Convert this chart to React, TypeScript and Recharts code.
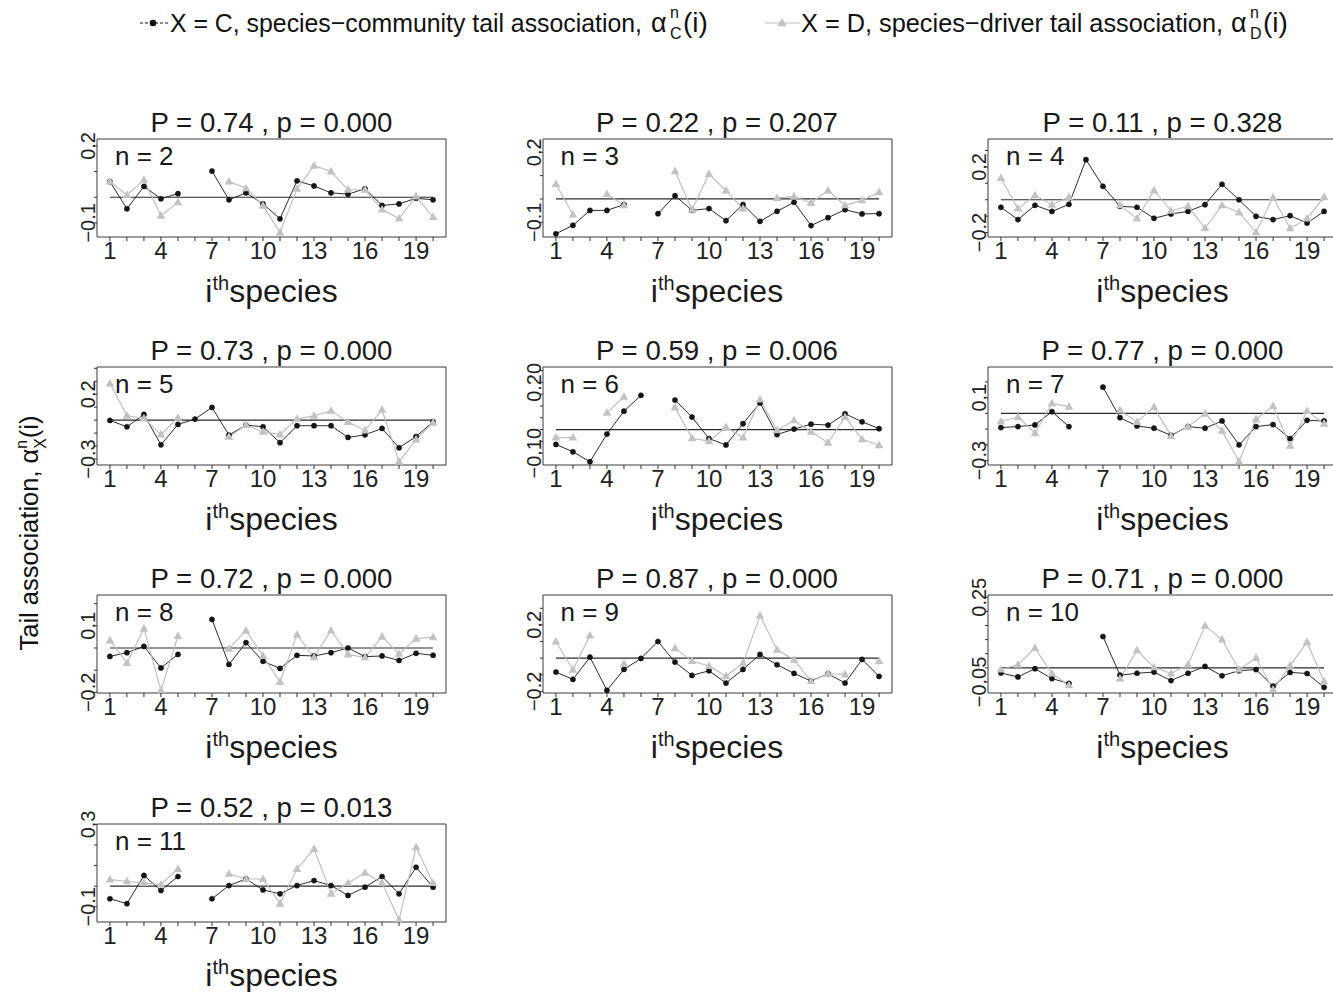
import { LineChart, Line, XAxis, YAxis, ReferenceLine, ReferenceArea } from 'recharts';

const species = [1, 2, 3, 4, 5, 6, 7, 8, 9, 10, 11, 12, 13, 14, 15, 16, 17, 18, 19, 20];
const xTickLabels = [1, 4, 7, 10, 13, 16, 19];
const nValues = [2, 3, 4, 5, 6, 7, 8, 9, 10, 11];
const bigP = ['0.74', '0.22', '0.11', '0.73', '0.59', '0.77', '0.72', '0.87', '0.71', '0.52'];
const smallP = ['0.000', '0.207', '0.328', '0.000', '0.006', '0.000', '0.000', '0.000', '0.000', '0.013'];

// species-community (C) and species-driver (D) tail association, one pair per n
const commN2 = [0.061, -0.045, 0.042, -0.006, 0.014, null, 0.102, -0.010, 0.017, -0.026, -0.084, 0.064, 0.044, 0.017, 0.012, 0.033, -0.032, -0.026, -0.004, -0.010];
const drvN2 = [0.061, 0.009, 0.068, -0.072, -0.020, null, null, 0.061, 0.035, -0.033, -0.137, 0.033, 0.123, 0.100, 0.029, 0.029, -0.048, -0.083, 0.003, -0.077];
const commN3 = [-0.149, -0.113, -0.049, -0.049, -0.024, null, -0.063, 0.014, -0.049, -0.041, -0.093, -0.024, -0.096, -0.053, -0.014, -0.114, -0.080, -0.046, -0.064, -0.063];
const drvN3 = [0.064, -0.067, null, 0.021, -0.027, null, null, 0.119, -0.046, 0.107, 0.036, -0.041, null, 0.004, 0.011, -0.017, 0.036, -0.027, -0.006, 0.029];
const commN4 = [-0.046, -0.121, -0.034, -0.071, -0.028, 0.244, 0.082, -0.040, -0.046, -0.113, -0.087, -0.071, -0.030, 0.094, 0.000, -0.101, -0.121, -0.097, -0.142, -0.071];
const drvN4 = [0.132, -0.054, 0.027, -0.030, 0.017, null, null, -0.034, -0.115, 0.057, -0.067, -0.040, -0.172, -0.034, -0.077, -0.198, 0.015, -0.174, -0.115, 0.017];
const commN5 = [-0.002, -0.051, 0.044, -0.190, -0.033, 0.008, 0.098, -0.115, -0.038, -0.051, -0.174, -0.043, -0.043, -0.043, -0.133, -0.113, -0.064, -0.213, -0.126, -0.013];
const drvN5 = [0.282, 0.033, 0.013, -0.110, 0.018, null, null, -0.128, -0.038, -0.090, -0.110, 0.010, 0.033, 0.072, -0.015, -0.079, 0.080, -0.320, -0.149, -0.020];
const commN6 = [-0.063, -0.094, -0.136, -0.019, 0.078, 0.145, null, 0.125, 0.053, -0.038, -0.065, 0.025, 0.113, -0.021, 0.002, 0.023, 0.019, 0.067, 0.033, 0.004];
const drvN6 = [-0.034, -0.034, null, 0.071, 0.139, null, null, 0.094, -0.037, -0.049, 0.011, -0.034, 0.127, -0.003, 0.039, -0.009, -0.056, 0.053, -0.041, -0.066];
const commN7 = [-0.090, -0.084, -0.073, 0.011, -0.084, null, 0.167, -0.027, -0.080, -0.094, -0.139, -0.084, -0.094, -0.048, -0.200, -0.084, -0.071, -0.160, -0.044, -0.048];
const drvN7 = [-0.052, -0.023, -0.126, 0.064, 0.043, null, null, 0.019, -0.054, 0.040, -0.143, -0.084, -0.002, -0.111, -0.305, -0.037, 0.047, -0.206, 0.015, -0.065];
const commN8 = [-0.038, -0.021, 0.007, -0.090, -0.029, null, 0.129, -0.074, 0.024, -0.060, -0.092, -0.033, -0.036, -0.021, 0.000, -0.039, -0.036, -0.056, -0.024, -0.033];
const drvN8 = [0.034, -0.068, 0.087, -0.191, 0.054, null, null, -0.003, 0.078, -0.036, -0.153, 0.060, -0.042, 0.079, -0.029, -0.042, 0.051, -0.026, 0.042, 0.049];
const commN9 = [-0.084, -0.128, 0.006, -0.194, -0.068, -0.002, 0.100, -0.024, -0.104, -0.076, -0.150, -0.068, 0.022, -0.040, -0.092, -0.138, -0.094, -0.150, -0.008, -0.110];
const drvN9 = [0.100, -0.070, 0.136, null, -0.034, null, null, 0.060, -0.018, -0.048, -0.108, -0.030, 0.256, 0.050, -0.010, -0.138, -0.094, -0.098, null, -0.018];
const commN10 = [-0.018, -0.032, -0.003, -0.038, -0.055, null, 0.111, -0.026, -0.019, -0.015, -0.045, -0.019, 0.005, -0.028, -0.010, -0.006, -0.065, -0.016, -0.020, -0.069];
const drvN10 = [-0.006, 0.011, 0.070, -0.020, -0.062, null, null, -0.038, 0.062, 0.002, -0.020, 0.011, 0.149, 0.100, -0.006, 0.035, -0.077, 0.008, 0.091, -0.048];
const commN11 = [-0.061, -0.085, 0.052, -0.021, 0.047, null, -0.061, 0.003, 0.035, -0.018, -0.037, 0.003, 0.027, 0.003, -0.045, -0.005, 0.047, -0.037, 0.092, -0.005];
const drvN11 = [0.032, 0.024, 0.015, 0.008, 0.084, null, null, 0.060, 0.035, 0.035, -0.085, 0.084, 0.181, -0.037, 0.015, 0.065, 0.015, -0.163, 0.189, 0.015];

const community = [commN2, commN3, commN4, commN5, commN6, commN7, commN8, commN9, commN10, commN11];
const driver = [drvN2, drvN3, drvN4, drvN5, drvN6, drvN7, drvN8, drvN9, drvN10, drvN11];

const yDomains = [[-0.155, 0.227], [-0.163, 0.257], [-0.227, 0.370], [-0.346, 0.410], [-0.150, 0.265], [-0.328, 0.295], [-0.203, 0.239], [-0.210, 0.380], [-0.089, 0.258], [-0.174, 0.302]];
const yTicks = [
  [-0.1, 0, 0.1, 0.2],
  [-0.1, 0, 0.1, 0.2],
  [-0.2, -0.1, 0, 0.1, 0.2, 0.3],
  [-0.3, -0.2, -0.1, 0, 0.1, 0.2, 0.3, 0.4],
  [-0.1, -0.05, 0, 0.05, 0.1, 0.15, 0.2, 0.25],
  [-0.3, -0.2, -0.1, 0, 0.1, 0.2],
  [-0.2, -0.1, 0, 0.1, 0.2],
  [-0.2, -0.1, 0, 0.1, 0.2, 0.3],
  [-0.05, 0, 0.05, 0.1, 0.15, 0.2, 0.25],
  [-0.1, 0, 0.1, 0.2, 0.3],
];
const yLabels = [[-0.1, 0.2], [-0.1, 0.2], [-0.2, 0.2], [-0.3, 0.2], [-0.1, 0.2], [-0.3, 0.1], [-0.2, 0.1], [-0.2, 0.2], [-0.05, 0.25], [-0.1, 0.3]];
const yDecimals = [1, 1, 1, 1, 2, 1, 1, 1, 2, 1];

const FONT = '"Liberation Sans", Arial, Helvetica, sans-serif';
const INK = '#141414';
const GREY = '#bcbcbc';
const BOX_W = 349;
const BOX_H = 98;
const PAD_L = 40, PAD_T = 30, PAD_R = 6, PAD_B = 34;
const COL_X = [97, 542.5, 988];
const ROW_Y = [139, 367, 595, 823.5];
const X_DOMAIN = [0.24, 20.76];

function XTick(props: any) {
  const { x, payload } = props;
  if (!xTickLabels.includes(payload.value)) return <g />;
  return (
    <text x={x} y={PAD_T + BOX_H + 22} textAnchor="middle" fontSize={24} fontFamily={FONT} fill="#222">
      {payload.value}
    </text>
  );
}

function YTick(props: any) {
  const { y, payload, labels, dec } = props;
  const v = payload.value;
  if (!labels.some((l: number) => Math.abs(l - v) < 1e-9)) return <g />;
  const s = v < 0 ? '\u2212' + Math.abs(v).toFixed(dec) : v.toFixed(dec);
  return (
    <text transform={`translate(${PAD_L - 2},${y}) rotate(-90)`} textAnchor="middle" fontSize={20} fontFamily={FONT} fill="#222">
      {s}
    </text>
  );
}

function triangle(cx: number, cy: number, s = 1) {
  return `${cx},${cy - 4.6 * s} ${cx - 4.3 * s},${cy + 3 * s} ${cx + 4.3 * s},${cy + 3 * s}`;
}

function TriDot(props: any) {
  const { cx, cy, index, value } = props;
  if (cy == null || value == null || Number.isNaN(cy)) return <g key={index} />;
  return <polygon key={index} points={triangle(cx, cy)} fill="#c2c2c2" />;
}

function Panel({ k }: { k: number }) {
  const rows = species.map((i, j) => ({ i, c: community[k][j], d: driver[k][j] }));
  const [lo, hi] = yDomains[k];
  const left = COL_X[k % 3];
  const top = ROW_Y[Math.floor(k / 3)];
  return (
    <div style={{ position: 'absolute', left: left - PAD_L, top: top - PAD_T }}>
      <LineChart width={PAD_L + BOX_W + PAD_R} height={PAD_T + BOX_H + PAD_B} data={rows} margin={{ top: PAD_T, right: PAD_R, bottom: 0, left: 0 }}>
        <XAxis dataKey="i" type="number" domain={X_DOMAIN} ticks={species} interval={0} allowDataOverflow height={PAD_B}
          axisLine={false} tickSize={4} tickLine={{ stroke: '#333' }} tick={<XTick />} />
        <YAxis type="number" domain={[lo, hi]} ticks={yTicks[k]} interval={0} allowDataOverflow width={PAD_L}
          axisLine={false} tickSize={3} tickLine={{ stroke: '#333' }} tick={<YTick labels={yLabels[k]} dec={yDecimals[k]} />} />
        <ReferenceArea x1={X_DOMAIN[0]} x2={X_DOMAIN[1]} y1={lo} y2={hi} fill="none" fillOpacity={0} stroke="#3a3a3a" strokeWidth={1} ifOverflow="visible" />
        <ReferenceLine segment={[{ x: 1, y: 0 }, { x: 20, y: 0 }]} stroke="#2a2a2a" strokeWidth={1.2} />
        <Line type="linear" dataKey="c" stroke={INK} strokeWidth={0.9} dot={{ r: 2.6, fill: INK, stroke: INK, strokeWidth: 0.5 }}
          activeDot={false} isAnimationActive={false} connectNulls={false} />
        <Line type="linear" dataKey="d" stroke={GREY} strokeWidth={1.1} dot={<TriDot />}
          activeDot={false} isAnimationActive={false} connectNulls={false} />
      </LineChart>
    </div>
  );
}

function Alpha({ sub, size }: { sub: string; size: number }) {
  const small = size * 0.62;
  return (
    <>
      <tspan>α</tspan>
      <tspan dy={-size * 0.42} fontSize={small}>n</tspan>
      <tspan dx={-small * 0.556} dy={size * 0.72} fontSize={small}>{sub}</tspan>
      <tspan dy={-size * 0.3} fontSize={size}>(i)</tspan>
    </>
  );
}

// legend symbol α with stacked superscript n and subscript
function LegendAlpha({ x, sub }: { x: number; sub: string }) {
  return (
    <g fill="#111">
      <text x={x} y={32} fontSize={27}>α</text>
      <text x={x + 19} y={18} fontSize={16}>n</text>
      <text x={x + 19} y={39} fontSize={16}>{sub}</text>
      <text x={x + 32} y={32} fontSize={28}>(i)</text>
    </g>
  );
}

function Overlay() {
  return (
    <svg width={1333} height={992} style={{ position: 'absolute', left: 0, top: 0, pointerEvents: 'none' }} fontFamily={FONT}>
      {/* legend */}
      <line x1={140} x2={169} y1={23} y2={23} stroke={INK} strokeWidth={1} strokeDasharray="3 2" />
      <circle cx={153} cy={23} r={3.3} fill={INK} />
      <text x={170} y={32} fontSize={26} fill="#111" textLength={472} lengthAdjust="spacingAndGlyphs">X = C, species−community tail association,</text>
      <LegendAlpha x={651} sub="C" />
      <line x1={765} x2={800} y1={23} y2={23} stroke={GREY} strokeWidth={1.2} />
      <polygon points={triangle(782, 23, 1.1)} fill="#c2c2c2" />
      <text x={801} y={32} fontSize={26} fill="#111" textLength={422} lengthAdjust="spacingAndGlyphs">X = D, species−driver tail association,</text>
      <LegendAlpha x={1231} sub="D" />

      {/* shared y title */}
      <text transform="translate(38,533) rotate(-90)" textAnchor="middle" fontSize={25.5} fill="#111">
        Tail association, <Alpha sub="X" size={25.5} />
      </text>

      {nValues.map((n, k) => {
        const left = COL_X[k % 3];
        const top = ROW_Y[Math.floor(k / 3)];
        const cx = left + BOX_W / 2;
        return (
          <g key={n} fill="#1a1a1a">
            <text x={cx} y={top - 7} textAnchor="middle" fontSize={27.6}>{`P = ${bigP[k]} , p = ${smallP[k]}`}</text>
            <text x={left + 18} y={top + 26} fontSize={26}>{`n = ${n}`}</text>
            <text x={cx} y={top + BOX_H + 64.5} textAnchor="middle" fontSize={32}>
              i<tspan dy={-12} fontSize={20}>th</tspan><tspan dy={12} fontSize={32}>species</tspan>
            </text>
          </g>
        );
      })}
    </svg>
  );
}

export default function App() {
  return (
    <div style={{ position: 'absolute', left: 0, top: 0, width: 1333, height: 992, overflow: 'hidden', background: '#fff', fontFamily: FONT }}>
      {nValues.map((n, k) => <Panel key={n} k={k} />)}
      <Overlay />
    </div>
  );
}
